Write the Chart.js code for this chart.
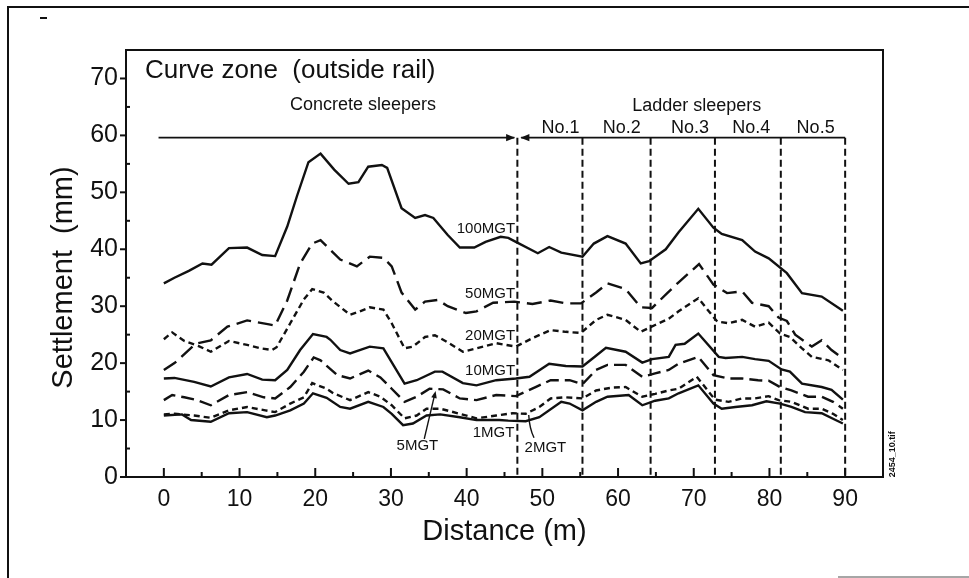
<!DOCTYPE html>
<html>
<head>
<meta charset="utf-8">
<script src="https://cdn.jsdelivr.net/npm/chart.js@4/dist/chart.umd.min.js"></script>
<style>
  html, body { margin: 0; padding: 0; background: #fff; }
  #wrap { width: 969px; height: 578px; }
</style>
</head>
<body>
<div id="wrap"><canvas id="settlementChart" width="969" height="578"></canvas></div>
<script>
// [distance (m), settlement (mm)], one list per tonnage
const mgt100 = [[0,34.0],[1.4,35.0],[3.3,36.2],[5.1,37.5],[6.3,37.3],[8.6,40.2],[11,40.3],[13,39.0],[14.7,38.8],[16.3,44.0],[17.6,49.4],[19.1,55.3],[20.7,56.8],[22.5,54.0],[24.4,51.5],[25.7,51.8],[27,54.5],[28.8,54.8],[29.5,54.3],[31.4,47.2],[33.2,45.5],[34.5,46.0],[35.6,45.5],[37.5,42.5],[39.1,40.3],[41,40.3],[42.5,41.3],[44.5,42.2],[45.5,42.0],[46.5,41.3],[49.4,39.3],[50.9,40.4],[52.5,39.4],[55.3,38.7],[56.8,41.0],[58.6,42.3],[61,41.0],[63,37.5],[64.1,37.9],[66.3,40.0],[68,43.0],[70.6,47.1],[72.6,43.8],[73.7,42.7],[76.4,41.6],[78.1,39.6],[79.9,38.4],[82.3,35.8],[84.3,32.3],[86.9,31.7],[89.7,29.2]];
const mgt50 = [[0,18.8],[1.4,20.0],[4.2,23.4],[6.2,24.0],[8.4,26.4],[11,27.5],[13.9,26.8],[14.7,26.6],[16.3,31.0],[18,37.5],[19.6,41.0],[20.7,41.6],[23.3,38.2],[25.5,37.0],[27.2,38.7],[29,38.5],[30.1,37.0],[31.4,32.4],[33.2,29.4],[34.5,30.8],[36.2,31.1],[37.5,30.0],[39.9,28.8],[41.3,29.1],[43.5,30.6],[46.3,30.8],[48.7,30.4],[51.1,31.0],[53.1,30.5],[55.1,30.5],[57.1,32.4],[58.6,34.0],[61,33.0],[63,29.8],[64.5,29.7],[66.5,32.3],[68,34.2],[70.7,37.4],[72.6,33.8],[74.4,32.3],[76.4,32.6],[77.7,30.6],[79.9,30.0],[81.2,28.0],[82.3,27.4],[83.4,25.0],[85.6,22.9],[86.9,24.0],[88.2,22.3],[89.7,20.8]];
const mgt20 = [[0,24.2],[1.1,25.4],[2.7,23.9],[4.6,23.0],[6.2,22.0],[8.6,23.9],[11,23.2],[12.8,22.6],[14.3,22.3],[14.9,22.8],[16.7,27.0],[18.5,31.2],[19.6,33.0],[21.1,32.4],[22.4,30.8],[24.6,28.5],[25.9,29.1],[27.2,29.8],[29,29.4],[30.1,27.0],[31.8,22.6],[32.9,22.9],[34.5,24.6],[35.8,24.9],[37.3,23.8],[39.5,22.0],[41.3,22.6],[43.9,23.5],[46.5,22.9],[48.7,24.4],[51.1,25.8],[53.1,25.5],[55.1,25.3],[57.1,27.6],[58.6,28.5],[61,27.6],[63,25.5],[64.9,26.7],[66.7,27.8],[68,29.1],[70.6,31.4],[73.1,27.3],[74.6,27.0],[76.4,27.6],[78.1,26.4],[79.9,27.1],[81.4,25.2],[82.7,24.6],[84.3,22.6],[85.6,21.1],[87.8,20.5],[89.7,18.8]];
const mgt10 = [[0,17.3],[1.4,17.4],[4,16.7],[6.2,15.9],[8.6,17.5],[11,18.1],[13,17.1],[14.7,17.0],[16.3,18.8],[18,22.3],[19.7,25.1],[21.5,24.6],[22,24.1],[23.3,22.3],[24.6,21.7],[27.2,22.9],[29,22.6],[31.8,16.4],[33.4,17.0],[35.8,18.5],[36.8,18.5],[39.5,16.5],[41.3,16.1],[43.9,17.0],[46.5,17.3],[48.3,17.6],[50.9,19.9],[53.1,19.5],[55.3,19.4],[56.8,21.0],[58.4,22.7],[61,22.0],[63.2,20.1],[64.5,20.7],[66.7,21.1],[67.6,23.2],[68.8,23.4],[70.6,25.2],[73.3,21.1],[74.2,20.9],[76.4,21.1],[78.1,20.7],[79.9,20.4],[81.6,18.9],[82.7,18.5],[84.3,16.4],[86.9,15.8],[88.2,15.3],[89.7,13.6]];
const mgt5 = [[0,13.5],[1.1,14.4],[2.7,14.0],[4.4,13.5],[6.2,12.6],[8.6,14.4],[11,14.9],[13.2,14.0],[14.7,13.8],[16.7,15.8],[18.5,18.5],[19.8,21.0],[20.7,20.5],[22.9,17.9],[24.6,17.3],[27,18.7],[28.6,17.5],[30.1,15.5],[31.8,13.2],[33.4,14.1],[35.1,15.5],[36.9,15.4],[39.1,13.8],[41.3,13.5],[43.9,14.4],[46.5,14.2],[49.1,15.8],[51.1,17.0],[53.6,17.0],[55.3,16.3],[57.1,18.8],[58.6,19.7],[61,19.7],[63.2,17.6],[64.9,18.2],[66.7,18.8],[68,19.9],[70.6,21.1],[72.6,17.9],[74.6,17.3],[76.4,17.3],[78.5,17.0],[79.9,16.9],[81.4,15.8],[82.9,15.2],[85.1,14.1],[86.9,14.1],[88.4,13.2],[89.7,12.0]];
const mgt2 = [[0,11.0],[1.4,11.1],[4,10.8],[6.2,10.4],[8.6,11.7],[11,12.3],[13.4,11.7],[14.7,11.4],[16.7,12.9],[18.5,14.0],[19.6,16.5],[21.5,15.5],[22.4,14.7],[24.6,13.5],[27,14.9],[28.6,14.1],[30.1,12.6],[31.8,10.3],[33.4,10.8],[34.7,12.0],[36.5,12.0],[39.1,11.1],[41.3,10.3],[43.9,10.8],[46.1,11.2],[47.8,11.1],[49.6,12.3],[51.1,13.8],[53.1,14.0],[55.3,13.8],[57.1,15.2],[59.2,15.7],[61,15.8],[63.2,14.1],[64.9,14.6],[66.7,15.2],[68,15.5],[70.4,17.6],[72.8,13.6],[74.6,13.2],[76.4,13.8],[78.1,13.8],[79.9,14.2],[81.2,13.5],[82.9,13.2],[85.1,12.0],[86.9,12.0],[88.4,11.1],[89.7,10.0]];
const mgt1 = [[0,10.8],[2.4,11.0],[3.6,10.0],[6.2,9.7],[8.6,11.2],[11,11.4],[13.6,10.5],[14.7,10.8],[16.7,11.7],[18.5,12.9],[19.7,14.7],[21.5,13.9],[23.3,12.3],[24.6,12.0],[27,13.2],[29,12.3],[30.1,11.1],[31.6,9.1],[32.9,9.4],[34.7,10.8],[36.5,11.0],[39.1,10.5],[41.3,10.0],[44.3,10.0],[45.5,9.9],[47.8,9.8],[49.6,10.5],[52.5,13.2],[53.6,12.9],[55.3,11.7],[57.1,13.2],[58.6,14.1],[61.4,14.4],[63.2,12.6],[64.9,13.4],[66.7,13.8],[68,14.7],[70.6,16.1],[72.6,12.9],[73.7,12.0],[75.5,12.3],[77.7,12.6],[79.6,13.3],[81.4,12.9],[82.9,12.3],[84.7,11.4],[86.9,11.2],[88.6,10.1],[89.7,9.4]];

const seriesLabels = ['100MGT', '50MGT', '20MGT', '10MGT', '5MGT', '2MGT', '1MGT'];
const xTickValues = [0, 10, 20, 30, 40, 50, 60, 70, 80, 90];
const yTickValues = [0, 10, 20, 30, 40, 50, 60, 70];
const sectionLines = [46.7, 55.3, 64.3, 72.8, 81.5, 90];
const sectionNames = ['No.1', 'No.2', 'No.3', 'No.4', 'No.5'];
const sectionNameX = [52.4, 60.5, 69.5, 77.6, 86.1];

const FONT = '"Liberation Sans", Arial, Helvetica, sans-serif';
const INK = '#111';

function makeSet(label, pts, dash) {
    return {
        label: label,
        data: pts.map(p => ({ x: p[0], y: p[1] })),
        borderColor: INK,
        borderWidth: 2.4,
        borderDash: dash,
        pointRadius: 0,
        tension: 0,
        fill: false
    };
}

function arrowHead(ctx, x, y, dx, dy, size) {
    const len = Math.hypot(dx, dy);
    const ux = dx / len, uy = dy / len;
    ctx.beginPath();
    ctx.moveTo(x, y);
    ctx.lineTo(x - ux * size - uy * size * 0.4, y - uy * size + ux * size * 0.4);
    ctx.lineTo(x - ux * size + uy * size * 0.4, y - uy * size - ux * size * 0.4);
    ctx.closePath();
    ctx.fill();
}

const decor = {
    id: 'decor',
    beforeDraw(chart) {
        const ctx = chart.ctx;
        ctx.save();
        ctx.fillStyle = '#fff';
        ctx.fillRect(0, 0, chart.width, chart.height);
        // scanned page border
        ctx.strokeStyle = INK;
        ctx.lineWidth = 2;
        ctx.beginPath();
        ctx.moveTo(8, 578); ctx.lineTo(8, 7); ctx.lineTo(969, 7);
        ctx.stroke();
        ctx.beginPath();
        ctx.moveTo(40, 18); ctx.lineTo(47, 18);
        ctx.stroke();
        ctx.strokeStyle = '#888';
        ctx.lineWidth = 1.5;
        ctx.beginPath();
        ctx.moveTo(838, 577); ctx.lineTo(969, 577);
        ctx.stroke();
        ctx.restore();
    },
    afterDatasetsDraw(chart) {
        const ctx = chart.ctx;
        const xs = chart.scales.x, ys = chart.scales.y;
        const X = v => xs.getPixelForValue(v);
        const Y = v => ys.getPixelForValue(v);
        const area = chart.chartArea;
        ctx.save();
        ctx.strokeStyle = INK;
        ctx.fillStyle = INK;

        // frame
        ctx.lineWidth = 2;
        ctx.setLineDash([]);
        ctx.strokeRect(area.left, area.top, area.right - area.left, area.bottom - area.top);

        // x ticks (inward), y ticks
        for (let v = 0; v <= 90; v += 5) {
            const len = v % 10 === 0 ? 9 : 5;
            ctx.beginPath();
            ctx.moveTo(X(v), area.bottom);
            ctx.lineTo(X(v), area.bottom - len);
            ctx.stroke();
        }
        for (let v = 0; v <= 70; v += 5) {
            ctx.beginPath();
            if (v % 10 === 0) {
                ctx.moveTo(area.left - 6, Y(v));
                ctx.lineTo(area.left, Y(v));
            } else {
                ctx.moveTo(area.left, Y(v));
                ctx.lineTo(area.left + 4, Y(v));
            }
            ctx.stroke();
        }

        // section boundaries
        const topY = Y(59.6);
        ctx.setLineDash([7, 4]);
        ctx.lineWidth = 2;
        sectionLines.forEach(v => {
            ctx.beginPath();
            ctx.moveTo(X(v), topY);
            ctx.lineTo(X(v), area.bottom);
            ctx.stroke();
        });
        ctx.setLineDash([]);

        // extent arrows
        ctx.lineWidth = 1.8;
        ctx.beginPath();
        ctx.moveTo(X(-0.7), topY);
        ctx.lineTo(X(46.3), topY);
        ctx.stroke();
        arrowHead(ctx, X(46.4), topY, 1, 0, 9);
        ctx.beginPath();
        ctx.moveTo(X(47.2), topY);
        ctx.lineTo(X(90), topY);
        ctx.stroke();
        arrowHead(ctx, X(47.1), topY, -1, 0, 9);

        // leader lines
        ctx.lineWidth = 1.4;
        ctx.beginPath();
        ctx.moveTo(X(34.4), Y(6.7));
        ctx.lineTo(X(35.8), Y(14.6));
        ctx.stroke();
        arrowHead(ctx, X(35.9), Y(15.1), X(35.9) - X(34.4), Y(15.1) - Y(6.7), 7);
        ctx.beginPath();
        ctx.moveTo(X(48.9), Y(6.9));
        ctx.quadraticCurveTo(X(48.3), Y(8.5), X(48.2), Y(10.9));
        ctx.stroke();

        // texts
        ctx.textBaseline = 'alphabetic';
        ctx.textAlign = 'left';
        ctx.font = '26px ' + FONT;
        ctx.fillText('Curve zone  (outside rail)', X(-2.5), Y(70));

        ctx.textAlign = 'center';
        ctx.font = '18px ' + FONT;
        ctx.fillText('Concrete sleepers', X(26.3), Y(64.5));
        ctx.fillText('Ladder sleepers', X(70.4), Y(64.3));
        sectionNames.forEach((n, i) => ctx.fillText(n, X(sectionNameX[i]), Y(60.4)));

        ctx.textBaseline = 'middle';
        ctx.textAlign = 'right';
        ctx.font = '15px ' + FONT;
        ctx.fillText(seriesLabels[0], X(46.4), Y(43.5));
        ctx.fillText(seriesLabels[1], X(46.4), Y(32.2));
        ctx.fillText(seriesLabels[2], X(46.4), Y(24.8));
        ctx.fillText(seriesLabels[3], X(46.4), Y(18.6));
        ctx.fillText(seriesLabels[6], X(46.3), Y(7.8));
        ctx.textAlign = 'center';
        ctx.fillText(seriesLabels[4], X(33.5), Y(5.4));
        ctx.fillText(seriesLabels[5], X(50.4), Y(5.1));

        // y axis title
        ctx.save();
        ctx.translate(64, (area.top + area.bottom) / 2 + 14);
        ctx.rotate(-Math.PI / 2);
        ctx.font = '29px ' + FONT;
        ctx.fillText('Settlement  (mm)', 0, 0);
        ctx.restore();

        // file tag
        ctx.save();
        ctx.translate(area.right + 10, Y(4));
        ctx.rotate(-Math.PI / 2);
        ctx.font = 'bold 9px ' + FONT;
        ctx.fillText('2454_10.tif', 0, 0);
        ctx.restore();

        ctx.restore();
    }
};

const ctx = document.getElementById('settlementChart').getContext('2d');
const chart = new Chart(ctx, {
    type: 'line',
    data: {
        datasets: [
            makeSet(seriesLabels[0], mgt100, []),
            makeSet(seriesLabels[1], mgt50, [15, 7]),
            makeSet(seriesLabels[2], mgt20, [6, 4]),
            makeSet(seriesLabels[3], mgt10, []),
            makeSet(seriesLabels[4], mgt5, [13, 6]),
            makeSet(seriesLabels[5], mgt2, [6, 4]),
            makeSet(seriesLabels[6], mgt1, [])
        ]
    },
    options: {
        responsive: false,
        animation: false,
        layout: { padding: { top: 50, right: 86, left: 0, bottom: 0 } },
        plugins: {
            legend: { display: false },
            tooltip: { enabled: false }
        },
        scales: {
            x: {
                type: 'linear',
                min: -5,
                max: 95,
                afterFit: s => { s.height = 101; },
                afterBuildTicks: s => { s.ticks = xTickValues.map(v => ({ value: v })); },
                grid: { display: false, drawTicks: false },
                border: { display: false },
                ticks: { font: { family: FONT, size: 23 }, color: INK, padding: 9, maxRotation: 0, autoSkip: false },
                title: {
                    display: true,
                    text: 'Distance (m)',
                    font: { family: FONT, size: 29 },
                    color: INK,
                    padding: { top: 0, bottom: 29 }
                }
            },
            y: {
                type: 'linear',
                min: 0,
                max: 75,
                afterFit: s => { s.width = 126; },
                afterBuildTicks: s => { s.ticks = yTickValues.map(v => ({ value: v })); },
                grid: { display: false, drawTicks: false },
                border: { display: false },
                ticks: { font: { family: FONT, size: 25 }, color: INK, padding: 8 }
            }
        }
    },
    plugins: [decor]
});
</script>
</body>
</html>
